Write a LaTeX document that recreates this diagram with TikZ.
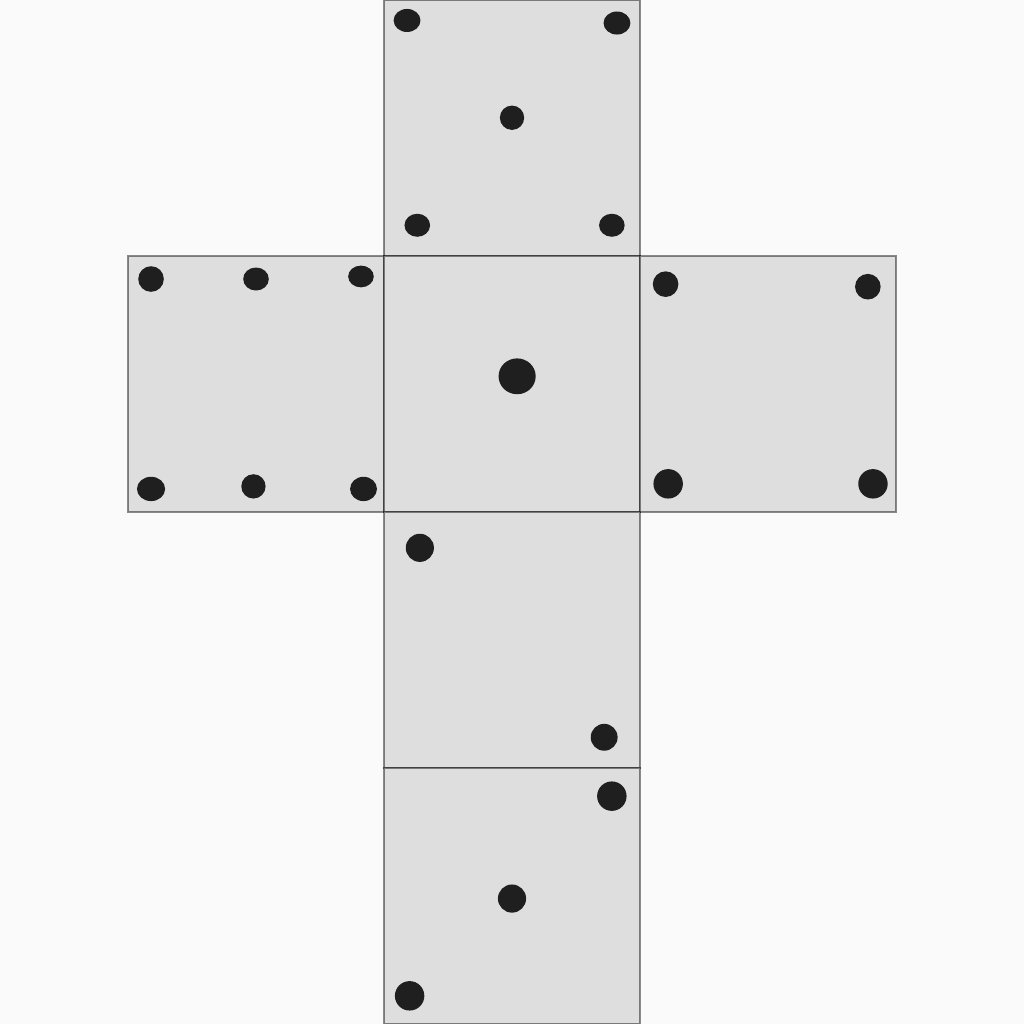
\documentclass[tikz,border=0pt]{standalone}
\definecolor{paper}{HTML}{FAFAFA}
\definecolor{facegray}{HTML}{DEDEDE}
\tikzset{
  face/.style={fill=facegray, draw=black, draw opacity=0.45, line width=0.6pt},
  pip/.style={fill=black!88}
}
\begin{document}
\begin{tikzpicture}[x=2cm, y=2cm]
\fill[paper] (0,0) rectangle (4,4);
\useasboundingbox (0,0) rectangle (4,4);
% the six faces
\draw[face] (1.5,3) rectangle (2.5,4);
\draw[face] (0.5,2) rectangle (1.5,3);
\draw[face] (1.5,2) rectangle (2.5,3);
\draw[face] (2.5,2) rectangle (3.5,3);
\draw[face] (1.5,1) rectangle (2.5,2);
\draw[face] (1.5,0) rectangle (2.5,1);
% five
\fill[pip] (1.59,3.92) ellipse (0.105cm and 0.09cm);
\fill[pip] (2.41,3.91) ellipse (0.105cm and 0.09cm);
\fill[pip] (2.00,3.54) circle (0.095cm);
\fill[pip] (1.63,3.12) ellipse (0.1cm and 0.09cm);
\fill[pip] (2.39,3.12) ellipse (0.1cm and 0.09cm);
% six
\fill[pip] (0.59,2.91) circle (0.1cm);
\fill[pip] (1.00,2.91) ellipse (0.1cm and 0.09cm);
\fill[pip] (1.41,2.92) ellipse (0.1cm and 0.085cm);
\fill[pip] (0.59,2.09) ellipse (0.11cm and 0.095cm);
\fill[pip] (0.99,2.10) circle (0.095cm);
\fill[pip] (1.42,2.09) ellipse (0.105cm and 0.095cm);
% one
\fill[pip] (2.02,2.53) ellipse (0.145cm and 0.14cm);
% four
\fill[pip] (2.60,2.89) circle (0.1cm);
\fill[pip] (3.39,2.88) circle (0.1cm);
\fill[pip] (2.61,2.11) circle (0.115cm);
\fill[pip] (3.41,2.11) circle (0.115cm);
% two
\fill[pip] (1.64,1.86) circle (0.11cm);
\fill[pip] (2.36,1.12) circle (0.105cm);
% three
\fill[pip] (2.39,0.89) circle (0.115cm);
\fill[pip] (2.00,0.49) circle (0.11cm);
\fill[pip] (1.60,0.11) circle (0.115cm);
\end{tikzpicture}
\end{document}
